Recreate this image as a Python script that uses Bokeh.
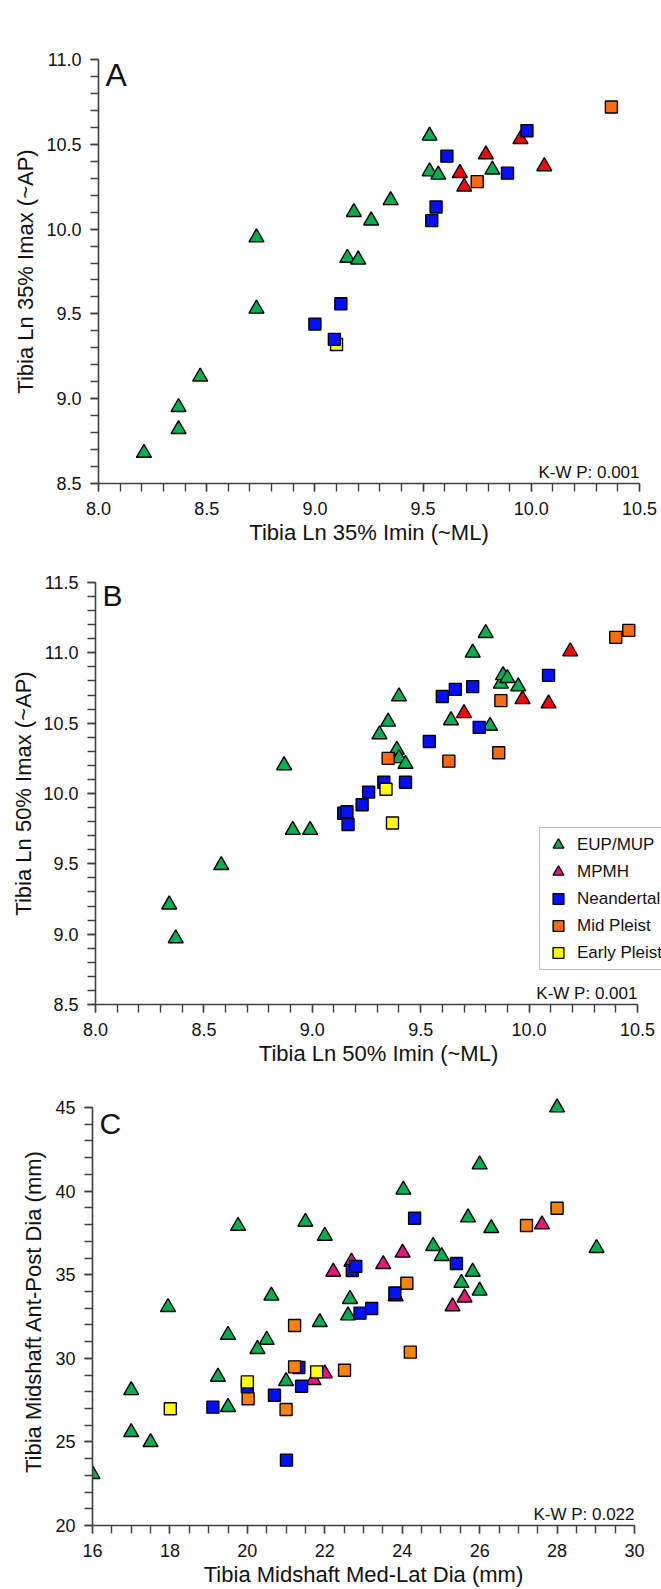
from bokeh.plotting import figure
from bokeh.models import (FixedTicker, PrintfTickFormatter, Label, Legend,
                          LegendItem, Range1d)
from bokeh.layouts import column, row
from bokeh.embed import file_html
from bokeh.resources import INLINE

FONT = "Liberation Sans"
AXIS_COLOR = "#404040"

GREEN = "#00B050"
RED = "#FF0000"
PINK = "#E8177D"
BLUE = "#0010FF"
ORANGE = "#FF6A10"
ORANGE_C = "#FF8200"
YELLOW = "#FFFF00"

# ---- Panel A: 35% section moments ----
a_eup_x = [8.21, 8.37, 8.37, 8.47, 8.73, 8.73, 9.15, 9.20, 9.18, 9.26, 9.35, 9.53, 9.53, 9.57, 9.82]
a_eup_y = [8.68, 8.82, 8.95, 9.13, 9.53, 9.95, 9.83, 9.82, 10.10, 10.05, 10.17, 10.55, 10.34, 10.32, 10.35]
a_mpmh_x = [9.67, 9.69, 9.79, 9.95, 10.06]
a_mpmh_y = [10.33, 10.25, 10.44, 10.53, 10.37]
a_nean_x = [9.00, 9.12, 9.09, 9.54, 9.56, 9.61, 9.89, 9.98]
a_nean_y = [9.44, 9.56, 9.35, 10.05, 10.13, 10.43, 10.33, 10.58]
a_mid_x = [9.75, 10.37]
a_mid_y = [10.28, 10.72]
a_early_x = [9.10]
a_early_y = [9.32]

# ---- Panel B: 50% section moments ----
b_eup_x = [8.34, 8.37, 8.58, 8.87, 8.91, 8.99, 9.31, 9.35, 9.40, 9.39, 9.40, 9.43,
           9.64, 9.74, 9.80, 9.82, 9.87, 9.88, 9.90, 9.95]
b_eup_y = [9.21, 8.97, 9.49, 10.20, 9.74, 9.74, 10.42, 10.51, 10.69, 10.31, 10.25, 10.21,
           10.52, 11.00, 11.14, 10.48, 10.78, 10.84, 10.82, 10.76]
b_mpmh_x = [9.70, 9.97, 10.09, 10.19]
b_mpmh_y = [10.57, 10.67, 10.64, 11.01]
b_nean_x = [9.145, 9.16, 9.165, 9.23, 9.26, 9.33, 9.43, 9.54, 9.60, 9.66, 9.74, 9.77, 10.09]
b_nean_y = [9.86, 9.87, 9.78, 9.92, 10.01, 10.08, 10.08, 10.37, 10.69, 10.74, 10.76, 10.47, 10.84]
b_mid_x = [9.35, 9.63, 9.86, 9.87, 10.40, 10.46]
b_mid_y = [10.25, 10.23, 10.29, 10.66, 11.11, 11.16]
b_early_x = [9.34, 9.37]
b_early_y = [10.03, 9.79]

# ---- Panel C: midshaft diameters (mm) ----
c_eup_x = [16.0, 17.0, 17.0, 17.5, 17.95, 19.24, 19.5, 19.5, 19.76, 20.26, 20.5, 20.62, 21.0,
           21.5, 21.87, 22.0, 22.6, 22.65, 24.03, 24.8, 25.02, 25.53, 25.7, 25.82, 26.0, 26.0,
           26.3, 28.0, 29.02]
c_eup_y = [23.07, 28.09, 25.58, 24.98, 33.06, 28.89, 27.08, 31.40, 37.92, 30.55, 31.10, 33.74,
           28.63, 38.16, 32.16, 37.32, 32.56, 33.54, 40.08, 36.71, 36.11, 34.51, 38.42, 35.17,
           41.59, 34.04, 37.78, 45.0, 36.59]
c_mpmh_x = [21.71, 22.0, 22.22, 22.69, 23.51, 24.01, 23.83, 25.3, 25.61, 27.61]
c_mpmh_y = [28.69, 29.09, 35.17, 35.77, 35.63, 36.31, 33.7, 33.1, 33.63, 38.0]
c_nean_x = [19.11, 20.70, 21.01, 21.33, 21.40, 22.71, 22.8, 22.91, 23.21, 23.81, 24.32, 25.4, 20.0]
c_nean_y = [27.08, 27.79, 23.91, 29.45, 28.33, 35.25, 35.5, 32.70, 32.98, 33.91, 38.38, 35.67, 28.3]
c_mid_x = [20.02, 21.0, 21.22, 21.22, 22.51, 24.12, 24.21, 27.21, 28.0]
c_mid_y = [27.58, 26.94, 31.96, 29.49, 29.29, 34.49, 30.37, 37.94, 38.98]
c_early_x = [18.01, 20.0, 21.79]
c_early_y = [26.98, 28.59, 29.19]

group_labels = ["EUP/MUP", "MPMH", "Neandertal", "Mid Pleist", "Early Pleist"]


def ticks(start, stop, step):
    n = int(round((stop - start) / step))
    return [round(start + i * step, 6) for i in range(n + 1)]


def make_panel(height, borders, xr, yr, xview, yview, xmaj, xmin, ymaj, ymin, fmt,
               xlabel, ylabel, letter, letter_size, letter_drop, kw_text, ylabel_standoff):
    """xr/yr: axis extent; xview/yview: visible frame range (may be a bit wider)."""
    left, right, top, bottom = borders
    p = figure(width=661, height=height, output_backend="svg", toolbar_location=None,
               x_range=Range1d(*xview), y_range=Range1d(*yview),
               min_border_left=left, min_border_right=right,
               min_border_top=top, min_border_bottom=bottom)
    p.outline_line_color = None
    p.xgrid.grid_line_color = None
    p.ygrid.grid_line_color = None
    p.background_fill_color = "white"
    p.border_fill_color = "white"

    for ax, maj, mnr, bnd in ((p.xaxis[0], xmaj, xmin, xr), (p.yaxis[0], ymaj, ymin, yr)):
        ax.ticker = FixedTicker(ticks=maj, minor_ticks=mnr)
        ax.formatter = PrintfTickFormatter(format=fmt)
        ax.bounds = bnd
        ax.axis_line_color = AXIS_COLOR
        ax.axis_line_width = 1.6
        ax.major_tick_line_color = AXIS_COLOR
        ax.minor_tick_line_color = AXIS_COLOR
        ax.major_tick_line_width = 1.4
        ax.minor_tick_line_width = 1.4
        ax.major_tick_in = 0
        ax.minor_tick_in = 0
        ax.major_tick_out = 8
        ax.minor_tick_out = 8
        ax.major_label_text_font = FONT
        ax.major_label_text_font_size = "18px"
        ax.major_label_text_color = "#111111"
        ax.axis_label_text_font = FONT
        ax.axis_label_text_font_size = "22px"
        ax.axis_label_text_font_style = "normal"
        ax.axis_label_text_color = "#111111"
    p.xaxis.axis_label = xlabel
    p.yaxis.axis_label = ylabel
    p.xaxis.major_label_standoff = 10
    p.yaxis.major_label_standoff = 9
    p.xaxis.axis_label_standoff = 2
    p.yaxis.axis_label_standoff = ylabel_standoff

    # panel letter in the top-left corner of the frame
    p.add_layout(Label(x=xr[0], y=yr[1], x_offset=7, y_offset=-letter_drop, text=letter,
                       text_font=FONT, text_font_size=letter_size,
                       text_baseline="alphabetic", text_color="#111111"))
    # Kruskal-Wallis note in the bottom-right corner
    p.add_layout(Label(x=xr[1], y=yr[0], x_offset=0, y_offset=11, text=kw_text,
                       text_font=FONT, text_font_size="17px", text_align="right",
                       text_baseline="alphabetic", text_color="#111111"))
    return p


def draw_groups(p, data, colors, order):
    rends = {}
    for key in order:
        xs, ys, marker = data[key]
        rends[key] = p.scatter(xs, ys, marker=marker,
                               size=15 if marker == "triangle" else 12,
                               fill_color=colors[key], line_color="black", line_width=1.4)
    return rends


# ---- A ----
pa = make_panel(548, (98, 22, 59, 65), (8.0, 10.5), (8.5, 11.0), (8.0, 10.5), (8.5, 11.0),
                ticks(8.0, 10.5, 0.5), ticks(8.0, 10.5, 0.1),
                ticks(8.5, 11.0, 0.5), ticks(8.5, 11.0, 0.1), "%.1f",
                "Tibia Ln 35% Imin (~ML)", "Tibia Ln 35% Imax (~AP)",
                "A", "32px", 15, "K-W P: 0.001", 5)
draw_groups(pa,
            {"early": (a_early_x, a_early_y, "square"),
             "eup": (a_eup_x, a_eup_y, "triangle"),
             "mpmh": (a_mpmh_x, a_mpmh_y, "triangle"),
             "nean": (a_nean_x, a_nean_y, "square"),
             "mid": (a_mid_x, a_mid_y, "square")},
            {"eup": GREEN, "mpmh": RED, "nean": BLUE, "mid": ORANGE, "early": YELLOW},
            ["early", "eup", "mpmh", "nean", "mid"])

# ---- B ----  (frame runs to the page edge so the legend box can spill past the axis end)
pb = make_panel(520, (95, 0, 34, 62), (8.0, 10.5), (8.5, 11.5), (8.0, 10.611), (8.5, 11.5),
                ticks(8.0, 10.5, 0.5), ticks(8.0, 10.5, 0.1),
                ticks(8.5, 11.5, 0.5), ticks(8.5, 11.5, 0.1), "%.1f",
                "Tibia Ln 50% Imin (~ML)", "Tibia Ln 50% Imax (~AP)",
                "B", "30px", 13, "K-W P: 0.001", 4)
rb = draw_groups(pb,
                 {"eup": (b_eup_x, b_eup_y, "triangle"),
                  "mpmh": (b_mpmh_x, b_mpmh_y, "triangle"),
                  "nean": (b_nean_x, b_nean_y, "square"),
                  "mid": (b_mid_x, b_mid_y, "square"),
                  "early": (b_early_x, b_early_y, "square")},
                 {"eup": GREEN, "mpmh": RED, "nean": BLUE, "mid": ORANGE, "early": YELLOW},
                 ["eup", "mpmh", "nean", "mid", "early"])
# key glyph for MPMH in its group colour (pink)
mpmh_key = pb.scatter([float("nan")], [float("nan")], marker="triangle", size=15,
                      fill_color=PINK, line_color="black", line_width=1.4)
legend = Legend(items=[LegendItem(label=group_labels[0], renderers=[rb["eup"]]),
                       LegendItem(label=group_labels[1], renderers=[mpmh_key]),
                       LegendItem(label=group_labels[2], renderers=[rb["nean"]]),
                       LegendItem(label=group_labels[3], renderers=[rb["mid"]]),
                       LegendItem(label=group_labels[4], renderers=[rb["early"]])],
                location=(444, 34), padding=3, spacing=0, margin=0,
                glyph_width=30, glyph_height=27, label_height=27, label_standoff=4,
                label_text_font=FONT, label_text_font_size="17px",
                label_text_color="#111111",
                border_line_color="#808080", border_line_width=1.5,
                background_fill_color="white", background_fill_alpha=1.0)
pb.add_layout(legend)

# ---- C ----  (view extends a little above 45 so the top marker is not cut)
pc = make_panel(521, (92, 27, 29, 62), (16, 30), (20, 45), (16, 30), (20, 45.6),
                ticks(16, 30, 2), ticks(16, 30, 0.5),
                ticks(20, 45, 5), ticks(20, 45, 1), "%d",
                "Tibia Midshaft Med-Lat Dia (mm)", "Tibia Midshaft Ant-Post Dia (mm)",
                "C", "30px", 16, "K-W P: 0.022", 6)
draw_groups(pc,
            {"eup": (c_eup_x, c_eup_y, "triangle"),
             "mpmh": (c_mpmh_x, c_mpmh_y, "triangle"),
             "nean": (c_nean_x, c_nean_y, "square"),
             "mid": (c_mid_x, c_mid_y, "square"),
             "early": (c_early_x, c_early_y, "square")},
            {"eup": GREEN, "mpmh": PINK, "nean": BLUE, "mid": ORANGE_C, "early": YELLOW},
            ["eup", "mpmh", "nean", "mid", "early"])

layout = column(row(pa), row(pb), row(pc), spacing=0)
open("out.html", "w").write(file_html(layout, INLINE))
